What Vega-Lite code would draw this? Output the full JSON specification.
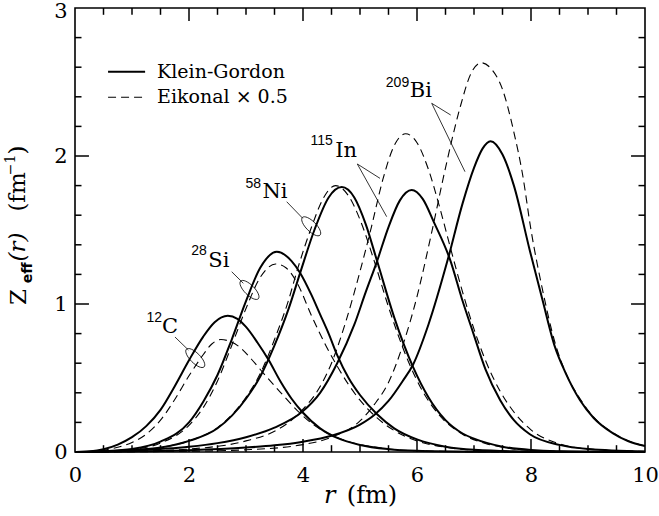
{
  "$schema": "https://vega.github.io/schema/vega-lite/v6.json",
  "width": 570,
  "height": 444,
  "autosize": {"type": "none"},
  "padding": {"left": 75, "top": 8, "right": 14, "bottom": 64},
  "background": "white",
  "config": {
    "view": {"stroke": "#000", "strokeWidth": 1.6},
    "axis": {"grid": false, "domain": false, "title": null, "labelFlush": false, "labelOverlap": false, "labelBound": false}
  },
  "datasets": {
    "kg": [
      {"s":"C12","r":0,"z":0},{"s":"C12","r":0.25,"z":0.004},{"s":"C12","r":0.5,"z":0.018},{"s":"C12","r":0.75,"z":0.05},{"s":"C12","r":1.0,"z":0.1},{"s":"C12","r":1.25,"z":0.175},{"s":"C12","r":1.5,"z":0.285},{"s":"C12","r":1.75,"z":0.445},{"s":"C12","r":2.0,"z":0.62},{"s":"C12","r":2.25,"z":0.78},{"s":"C12","r":2.45,"z":0.877},{"s":"C12","r":2.68,"z":0.92},{"s":"C12","r":2.85,"z":0.9},{"s":"C12","r":3.0,"z":0.845},{"s":"C12","r":3.2,"z":0.74},{"s":"C12","r":3.4,"z":0.62},{"s":"C12","r":3.6,"z":0.48},{"s":"C12","r":3.8,"z":0.36},{"s":"C12","r":4.0,"z":0.265},{"s":"C12","r":4.3,"z":0.16},{"s":"C12","r":4.6,"z":0.095},{"s":"C12","r":5.0,"z":0.047},{"s":"C12","r":5.5,"z":0.019},{"s":"C12","r":6.0,"z":0.008},{"s":"C12","r":7.0,"z":0.002},{"s":"C12","r":8.0,"z":0.0005},{"s":"C12","r":10,"z":0},
      {"s":"Si28","r":0,"z":0},{"s":"Si28","r":0.5,"z":0.005},{"s":"Si28","r":1.0,"z":0.02},{"s":"Si28","r":1.5,"z":0.07},{"s":"Si28","r":2.0,"z":0.2},{"s":"Si28","r":2.25,"z":0.34},{"s":"Si28","r":2.5,"z":0.52},{"s":"Si28","r":2.75,"z":0.76},{"s":"Si28","r":3.0,"z":1.02},{"s":"Si28","r":3.25,"z":1.245},{"s":"Si28","r":3.54,"z":1.353},{"s":"Si28","r":3.8,"z":1.29},{"s":"Si28","r":3.95,"z":1.21},{"s":"Si28","r":4.15,"z":1.06},{"s":"Si28","r":4.3,"z":0.93},{"s":"Si28","r":4.45,"z":0.8},{"s":"Si28","r":4.6,"z":0.655},{"s":"Si28","r":4.8,"z":0.5},{"s":"Si28","r":5.0,"z":0.385},{"s":"Si28","r":5.3,"z":0.255},{"s":"Si28","r":5.6,"z":0.16},{"s":"Si28","r":6.0,"z":0.085},{"s":"Si28","r":6.5,"z":0.036},{"s":"Si28","r":7.0,"z":0.015},{"s":"Si28","r":8.0,"z":0.003},{"s":"Si28","r":10,"z":0},
      {"s":"Ni58","r":0,"z":0},{"s":"Ni58","r":0.5,"z":0.004},{"s":"Ni58","r":1.0,"z":0.012},{"s":"Ni58","r":1.5,"z":0.03},{"s":"Ni58","r":2.0,"z":0.075},{"s":"Ni58","r":2.5,"z":0.16},{"s":"Ni58","r":3.0,"z":0.36},{"s":"Ni58","r":3.25,"z":0.51},{"s":"Ni58","r":3.5,"z":0.72},{"s":"Ni58","r":3.75,"z":0.97},{"s":"Ni58","r":3.95,"z":1.21},{"s":"Ni58","r":4.2,"z":1.5},{"s":"Ni58","r":4.45,"z":1.72},{"s":"Ni58","r":4.68,"z":1.79},{"s":"Ni58","r":4.9,"z":1.72},{"s":"Ni58","r":5.1,"z":1.54},{"s":"Ni58","r":5.3,"z":1.29},{"s":"Ni58","r":5.6,"z":0.91},{"s":"Ni58","r":5.93,"z":0.575},{"s":"Ni58","r":6.2,"z":0.37},{"s":"Ni58","r":6.5,"z":0.215},{"s":"Ni58","r":6.8,"z":0.125},{"s":"Ni58","r":7.0,"z":0.09},{"s":"Ni58","r":7.5,"z":0.036},{"s":"Ni58","r":8.0,"z":0.014},{"s":"Ni58","r":9.0,"z":0.002},{"s":"Ni58","r":10,"z":0},
      {"s":"In115","r":0,"z":0},{"s":"In115","r":1.0,"z":0.01},{"s":"In115","r":2.0,"z":0.035},{"s":"In115","r":2.5,"z":0.06},{"s":"In115","r":3.0,"z":0.1},{"s":"In115","r":3.5,"z":0.165},{"s":"In115","r":3.98,"z":0.27},{"s":"In115","r":4.3,"z":0.4},{"s":"In115","r":4.6,"z":0.6},{"s":"In115","r":4.9,"z":0.86},{"s":"In115","r":5.1,"z":1.08},{"s":"In115","r":5.3,"z":1.29},{"s":"In115","r":5.5,"z":1.52},{"s":"In115","r":5.7,"z":1.7},{"s":"In115","r":5.906,"z":1.77},{"s":"In115","r":6.1,"z":1.71},{"s":"In115","r":6.3,"z":1.55},{"s":"In115","r":6.58,"z":1.3},{"s":"In115","r":6.8,"z":1.02},{"s":"In115","r":6.99,"z":0.8},{"s":"In115","r":7.2,"z":0.56},{"s":"In115","r":7.46,"z":0.35},{"s":"In115","r":7.7,"z":0.215},{"s":"In115","r":7.98,"z":0.12},{"s":"In115","r":8.5,"z":0.048},{"s":"In115","r":9.0,"z":0.02},{"s":"In115","r":10,"z":0.004},
      {"s":"Bi209","r":0,"z":0},{"s":"Bi209","r":1.0,"z":0.004},{"s":"Bi209","r":2.0,"z":0.012},{"s":"Bi209","r":3.0,"z":0.03},{"s":"Bi209","r":3.5,"z":0.045},{"s":"Bi209","r":4.0,"z":0.07},{"s":"Bi209","r":4.5,"z":0.11},{"s":"Bi209","r":5.0,"z":0.185},{"s":"Bi209","r":5.25,"z":0.25},{"s":"Bi209","r":5.5,"z":0.345},{"s":"Bi209","r":5.75,"z":0.48},{"s":"Bi209","r":5.93,"z":0.59},{"s":"Bi209","r":6.2,"z":0.86},{"s":"Bi209","r":6.54,"z":1.3},{"s":"Bi209","r":6.8,"z":1.68},{"s":"Bi209","r":7.0,"z":1.92},{"s":"Bi209","r":7.15,"z":2.05},{"s":"Bi209","r":7.29,"z":2.1},{"s":"Bi209","r":7.5,"z":2.01},{"s":"Bi209","r":7.7,"z":1.8},{"s":"Bi209","r":7.98,"z":1.36},{"s":"Bi209","r":8.2,"z":1.03},{"s":"Bi209","r":8.42,"z":0.71},{"s":"Bi209","r":8.6,"z":0.54},{"s":"Bi209","r":8.86,"z":0.35},{"s":"Bi209","r":9.1,"z":0.23},{"s":"Bi209","r":9.44,"z":0.126},{"s":"Bi209","r":9.7,"z":0.074},{"s":"Bi209","r":10,"z":0.04}
    ],
    "eik": [
      {"s":"C12","r":0,"z":0},{"s":"C12","r":0.25,"z":0.003},{"s":"C12","r":0.5,"z":0.012},{"s":"C12","r":0.75,"z":0.032},{"s":"C12","r":1.0,"z":0.065},{"s":"C12","r":1.25,"z":0.12},{"s":"C12","r":1.5,"z":0.215},{"s":"C12","r":1.75,"z":0.355},{"s":"C12","r":2.0,"z":0.515},{"s":"C12","r":2.2,"z":0.63},{"s":"C12","r":2.4,"z":0.73},{"s":"C12","r":2.56,"z":0.76},{"s":"C12","r":2.7,"z":0.75},{"s":"C12","r":2.9,"z":0.705},{"s":"C12","r":3.1,"z":0.625},{"s":"C12","r":3.3,"z":0.535},{"s":"C12","r":3.6,"z":0.405},{"s":"C12","r":3.9,"z":0.28},{"s":"C12","r":4.2,"z":0.18},{"s":"C12","r":4.5,"z":0.115},{"s":"C12","r":4.8,"z":0.07},{"s":"C12","r":5.2,"z":0.036},{"s":"C12","r":5.6,"z":0.017},{"s":"C12","r":6.0,"z":0.008},{"s":"C12","r":7.0,"z":0.002},{"s":"C12","r":8.0,"z":0.0005},{"s":"C12","r":10,"z":0},
      {"s":"Si28","r":0,"z":0},{"s":"Si28","r":0.5,"z":0.004},{"s":"Si28","r":1.0,"z":0.017},{"s":"Si28","r":1.5,"z":0.06},{"s":"Si28","r":2.0,"z":0.18},{"s":"Si28","r":2.25,"z":0.3},{"s":"Si28","r":2.5,"z":0.48},{"s":"Si28","r":2.75,"z":0.72},{"s":"Si28","r":3.0,"z":0.97},{"s":"Si28","r":3.25,"z":1.18},{"s":"Si28","r":3.52,"z":1.27},{"s":"Si28","r":3.7,"z":1.245},{"s":"Si28","r":3.9,"z":1.14},{"s":"Si28","r":4.15,"z":0.92},{"s":"Si28","r":4.4,"z":0.72},{"s":"Si28","r":4.6,"z":0.58},{"s":"Si28","r":4.8,"z":0.455},{"s":"Si28","r":5.0,"z":0.35},{"s":"Si28","r":5.3,"z":0.23},{"s":"Si28","r":5.6,"z":0.145},{"s":"Si28","r":6.0,"z":0.075},{"s":"Si28","r":6.5,"z":0.032},{"s":"Si28","r":7.0,"z":0.013},{"s":"Si28","r":8.0,"z":0.003},{"s":"Si28","r":10,"z":0},
      {"s":"Ni58","r":0,"z":0},{"s":"Ni58","r":0.5,"z":0.003},{"s":"Ni58","r":1.0,"z":0.011},{"s":"Ni58","r":1.5,"z":0.03},{"s":"Ni58","r":2.0,"z":0.075},{"s":"Ni58","r":2.5,"z":0.165},{"s":"Ni58","r":3.0,"z":0.37},{"s":"Ni58","r":3.25,"z":0.53},{"s":"Ni58","r":3.5,"z":0.76},{"s":"Ni58","r":3.75,"z":1.03},{"s":"Ni58","r":3.9,"z":1.23},{"s":"Ni58","r":4.15,"z":1.52},{"s":"Ni58","r":4.35,"z":1.71},{"s":"Ni58","r":4.57,"z":1.8},{"s":"Ni58","r":4.8,"z":1.73},{"s":"Ni58","r":5.0,"z":1.57},{"s":"Ni58","r":5.25,"z":1.29},{"s":"Ni58","r":5.5,"z":0.98},{"s":"Ni58","r":5.85,"z":0.61},{"s":"Ni58","r":6.1,"z":0.41},{"s":"Ni58","r":6.4,"z":0.245},{"s":"Ni58","r":6.8,"z":0.12},{"s":"Ni58","r":7.2,"z":0.058},{"s":"Ni58","r":7.6,"z":0.026},{"s":"Ni58","r":8.0,"z":0.011},{"s":"Ni58","r":9.0,"z":0.002},{"s":"Ni58","r":10,"z":0},
      {"s":"In115","r":0,"z":0},{"s":"In115","r":1.0,"z":0.005},{"s":"In115","r":2.0,"z":0.02},{"s":"In115","r":3.0,"z":0.075},{"s":"In115","r":3.5,"z":0.14},{"s":"In115","r":3.75,"z":0.2},{"s":"In115","r":4.0,"z":0.29},{"s":"In115","r":4.25,"z":0.41},{"s":"In115","r":4.5,"z":0.6},{"s":"In115","r":4.75,"z":0.88},{"s":"In115","r":5.0,"z":1.22},{"s":"In115","r":5.2,"z":1.52},{"s":"In115","r":5.4,"z":1.84},{"s":"In115","r":5.6,"z":2.07},{"s":"In115","r":5.8,"z":2.15},{"s":"In115","r":6.0,"z":2.09},{"s":"In115","r":6.2,"z":1.91},{"s":"In115","r":6.4,"z":1.65},{"s":"In115","r":6.6,"z":1.36},{"s":"In115","r":6.8,"z":1.08},{"s":"In115","r":7.0,"z":0.83},{"s":"In115","r":7.2,"z":0.62},{"s":"In115","r":7.46,"z":0.41},{"s":"In115","r":7.7,"z":0.27},{"s":"In115","r":8.0,"z":0.15},{"s":"In115","r":8.5,"z":0.055},{"s":"In115","r":9.0,"z":0.021},{"s":"In115","r":10,"z":0.004},
      {"s":"Bi209","r":0,"z":0},{"s":"Bi209","r":1.0,"z":0.002},{"s":"Bi209","r":2.0,"z":0.005},{"s":"Bi209","r":3.0,"z":0.015},{"s":"Bi209","r":4.0,"z":0.05},{"s":"Bi209","r":4.5,"z":0.1},{"s":"Bi209","r":5.0,"z":0.21},{"s":"Bi209","r":5.25,"z":0.32},{"s":"Bi209","r":5.5,"z":0.47},{"s":"Bi209","r":5.75,"z":0.72},{"s":"Bi209","r":6.0,"z":1.05},{"s":"Bi209","r":6.25,"z":1.47},{"s":"Bi209","r":6.5,"z":1.92},{"s":"Bi209","r":6.75,"z":2.32},{"s":"Bi209","r":6.95,"z":2.56},{"s":"Bi209","r":7.13,"z":2.63},{"s":"Bi209","r":7.3,"z":2.59},{"s":"Bi209","r":7.5,"z":2.45},{"s":"Bi209","r":7.7,"z":2.16},{"s":"Bi209","r":7.85,"z":1.88},{"s":"Bi209","r":8.0,"z":1.5},{"s":"Bi209","r":8.2,"z":1.1},{"s":"Bi209","r":8.42,"z":0.74},{"s":"Bi209","r":8.65,"z":0.5},{"s":"Bi209","r":8.86,"z":0.36},{"s":"Bi209","r":9.1,"z":0.235},{"s":"Bi209","r":9.44,"z":0.13},{"s":"Bi209","r":9.7,"z":0.076},{"s":"Bi209","r":10,"z":0.041}
    ],
    "leaders": [
      {"x":1.754,"y":0.777,"x2":1.99,"y2":0.689},
      {"x":2.749,"y":1.218,"x2":2.953,"y2":1.14},
      {"x":3.714,"y":1.691,"x2":3.995,"y2":1.579},
      {"x":4.953,"y":1.946,"x2":5.351,"y2":1.849},
      {"x":4.953,"y":1.946,"x2":5.468,"y2":1.59},
      {"x":6.258,"y":2.356,"x2":6.591,"y2":2.277},
      {"x":6.258,"y":2.356,"x2":6.842,"y2":1.894}
    ],
    "ellipses": [
      {"x":2.11,"y":0.635},
      {"x":3.061,"y":1.095},
      {"x":4.144,"y":1.525}
    ],
    "elements": [
      {"x":1.667,"y":0.804,"t":"C"},
      {"x":2.523,"y":1.252,"t":"Si"},
      {"x":3.509,"y":1.714,"t":"Ni"},
      {"x":4.758,"y":1.991,"t":"In"},
      {"x":6.067,"y":2.397,"t":"Bi"}
    ],
    "supers": [
      {"x":1.389,"y":0.877,"t":"12"},
      {"x":2.175,"y":1.331,"t":"28"},
      {"x":3.128,"y":1.782,"t":"58"},
      {"x":4.328,"y":2.074,"t":"115"},
      {"x":5.658,"y":2.464,"t":"209"}
    ],
    "legendLines": [
      {"x":0.58,"x2":1.23,"y":2.57,"m":"Klein-Gordon"},
      {"x":0.58,"x2":1.23,"y":2.397,"m":"Eikonal"}
    ],
    "legendText": [
      {"x":1.44,"y":2.57,"t":"Klein-Gordon"},
      {"x":1.44,"y":2.397,"t":"Eikonal × 0.5"}
    ],
    "xmaj": [{"v":2},{"v":4},{"v":6},{"v":8}],
    "xmin": [{"v":0.5},{"v":1},{"v":1.5},{"v":2.5},{"v":3},{"v":3.5},{"v":4.5},{"v":5},{"v":5.5},{"v":6.5},{"v":7},{"v":7.5},{"v":8.5},{"v":9},{"v":9.5}],
    "ymaj": [{"v":1},{"v":2}],
    "ymin": [{"v":0.2},{"v":0.4},{"v":0.6},{"v":0.8},{"v":1.2},{"v":1.4},{"v":1.6},{"v":1.8},{"v":2.2},{"v":2.4},{"v":2.6},{"v":2.8}]
  },
  "layer": [
    {
      "data": {"name": "kg"},
      "mark": {"type": "line", "interpolate": "monotone", "color": "#000", "strokeWidth": 2},
      "encoding": {
        "x": {"field": "r", "type": "quantitative", "scale": {"domain": [0, 10], "nice": false},
              "axis": {"orient": "bottom", "values": [0,2,4,6,8,10], "ticks": false, "labelPadding": 12, "labelFont": "DejaVu Serif", "labelFontSize": 21, "labelColor": "#000"}},
        "y": {"field": "z", "type": "quantitative", "scale": {"domain": [0, 3], "nice": false},
              "axis": {"orient": "left", "values": [0,1,2], "ticks": false, "labelPadding": 8, "labelFont": "DejaVu Serif", "labelFontSize": 21, "labelColor": "#000"}},
        "detail": {"field": "s"}
      }
    },
    {
      "data": {"name": "eik"},
      "mark": {"type": "line", "interpolate": "monotone", "color": "#000", "strokeWidth": 1.1, "strokeDash": [8, 5]},
      "encoding": {
        "x": {"field": "r", "type": "quantitative", "scale": {"domain": [0, 10], "nice": false}, "axis": null},
        "y": {"field": "z", "type": "quantitative", "scale": {"domain": [0, 3], "nice": false}, "axis": null},
        "detail": {"field": "s"}
      }
    },
    {
      "data": {"name": "xmaj"},
      "mark": {"type": "rule", "color": "#000", "strokeWidth": 1.5},
      "encoding": {
        "x": {"field": "v", "type": "quantitative", "scale": {"domain": [0, 10], "nice": false}, "axis": null},
        "y": {"datum": 0, "type": "quantitative", "scale": {"domain": [0, 3], "nice": false}, "axis": null},
        "y2": {"datum": 0.088}
      }
    },
    {
      "data": {"name": "xmaj"},
      "mark": {"type": "rule", "color": "#000", "strokeWidth": 1.5},
      "encoding": {
        "x": {"field": "v", "type": "quantitative", "scale": {"domain": [0, 10], "nice": false}, "axis": null},
        "y": {"datum": 3, "type": "quantitative", "scale": {"domain": [0, 3], "nice": false}, "axis": null},
        "y2": {"datum": 2.912}
      }
    },
    {
      "data": {"name": "xmin"},
      "mark": {"type": "rule", "color": "#000", "strokeWidth": 1.5},
      "encoding": {
        "x": {"field": "v", "type": "quantitative", "scale": {"domain": [0, 10], "nice": false}, "axis": null},
        "y": {"datum": 0, "type": "quantitative", "scale": {"domain": [0, 3], "nice": false}, "axis": null},
        "y2": {"datum": 0.046}
      }
    },
    {
      "data": {"name": "xmin"},
      "mark": {"type": "rule", "color": "#000", "strokeWidth": 1.5},
      "encoding": {
        "x": {"field": "v", "type": "quantitative", "scale": {"domain": [0, 10], "nice": false}, "axis": null},
        "y": {"datum": 3, "type": "quantitative", "scale": {"domain": [0, 3], "nice": false}, "axis": null},
        "y2": {"datum": 2.954}
      }
    },
    {
      "data": {"name": "ymaj"},
      "mark": {"type": "rule", "color": "#000", "strokeWidth": 1.5},
      "encoding": {
        "y": {"field": "v", "type": "quantitative", "scale": {"domain": [0, 3], "nice": false}, "axis": null},
        "x": {"datum": 0, "type": "quantitative", "scale": {"domain": [0, 10], "nice": false}, "axis": null},
        "x2": {"datum": 0.245}
      }
    },
    {
      "data": {"name": "ymaj"},
      "mark": {"type": "rule", "color": "#000", "strokeWidth": 1.5},
      "encoding": {
        "y": {"field": "v", "type": "quantitative", "scale": {"domain": [0, 3], "nice": false}, "axis": null},
        "x": {"datum": 10, "type": "quantitative", "scale": {"domain": [0, 10], "nice": false}, "axis": null},
        "x2": {"datum": 9.755}
      }
    },
    {
      "data": {"name": "ymin"},
      "mark": {"type": "rule", "color": "#000", "strokeWidth": 1.5},
      "encoding": {
        "y": {"field": "v", "type": "quantitative", "scale": {"domain": [0, 3], "nice": false}, "axis": null},
        "x": {"datum": 0, "type": "quantitative", "scale": {"domain": [0, 10], "nice": false}, "axis": null},
        "x2": {"datum": 0.114}
      }
    },
    {
      "data": {"name": "ymin"},
      "mark": {"type": "rule", "color": "#000", "strokeWidth": 1.5},
      "encoding": {
        "y": {"field": "v", "type": "quantitative", "scale": {"domain": [0, 3], "nice": false}, "axis": null},
        "x": {"datum": 10, "type": "quantitative", "scale": {"domain": [0, 10], "nice": false}, "axis": null},
        "x2": {"datum": 9.886}
      }
    },
    {
      "data": {"name": "leaders"},
      "mark": {"type": "rule", "color": "#000", "strokeWidth": 0.8},
      "encoding": {
        "x": {"field": "x", "type": "quantitative", "scale": {"domain": [0, 10], "nice": false}, "axis": null},
        "y": {"field": "y", "type": "quantitative", "scale": {"domain": [0, 3], "nice": false}, "axis": null},
        "x2": {"field": "x2"},
        "y2": {"field": "y2"}
      }
    },
    {
      "data": {"name": "ellipses"},
      "mark": {"type": "point", "shape": "M -1 0 A 1 0.4 0 1 1 1 0 A 1 0.4 0 1 1 -1 0 Z", "size": 625, "angle": 45, "filled": false, "stroke": "#000", "strokeWidth": 0.8, "opacity": 1},
      "encoding": {
        "x": {"field": "x", "type": "quantitative", "scale": {"domain": [0, 10], "nice": false}, "axis": null},
        "y": {"field": "y", "type": "quantitative", "scale": {"domain": [0, 3], "nice": false}, "axis": null}
      }
    },
    {
      "data": {"name": "elements"},
      "mark": {"type": "text", "font": "DejaVu Serif", "fontSize": 21, "align": "center", "baseline": "alphabetic", "color": "#000"},
      "encoding": {
        "x": {"field": "x", "type": "quantitative", "scale": {"domain": [0, 10], "nice": false}, "axis": null},
        "y": {"field": "y", "type": "quantitative", "scale": {"domain": [0, 3], "nice": false},
              "axis": {"orient": "left", "values": [3], "ticks": false, "labelOffset": 3, "labelPadding": 8, "labelFont": "DejaVu Serif", "labelFontSize": 21, "labelColor": "#000"}},
        "text": {"field": "t"}
      }
    },
    {
      "data": {"name": "supers"},
      "mark": {"type": "text", "font": "Liberation Sans", "fontSize": 14, "align": "center", "baseline": "alphabetic", "color": "#000"},
      "encoding": {
        "x": {"field": "x", "type": "quantitative", "scale": {"domain": [0, 10], "nice": false}, "axis": null},
        "y": {"field": "y", "type": "quantitative", "scale": {"domain": [0, 3], "nice": false}, "axis": null},
        "text": {"field": "t"}
      }
    },
    {
      "data": {"name": "legendLines"},
      "mark": {"type": "rule", "color": "#000"},
      "encoding": {
        "x": {"field": "x", "type": "quantitative", "scale": {"domain": [0, 10], "nice": false}, "axis": null},
        "x2": {"field": "x2"},
        "y": {"field": "y", "type": "quantitative", "scale": {"domain": [0, 3], "nice": false}, "axis": null},
        "strokeDash": {"field": "m", "type": "nominal", "scale": {"domain": ["Klein-Gordon", "Eikonal"], "range": [[1, 0], [8, 5]]}, "legend": null},
        "strokeWidth": {"field": "m", "type": "nominal", "scale": {"domain": ["Klein-Gordon", "Eikonal"], "range": [2, 1.1]}, "legend": null}
      }
    },
    {
      "data": {"name": "legendText"},
      "mark": {"type": "text", "font": "DejaVu Serif", "fontSize": 19, "align": "left", "baseline": "middle", "color": "#000"},
      "encoding": {
        "x": {"field": "x", "type": "quantitative", "scale": {"domain": [0, 10], "nice": false}, "axis": null},
        "y": {"field": "y", "type": "quantitative", "scale": {"domain": [0, 3], "nice": false}, "axis": null},
        "text": {"field": "t"}
      }
    },
    {
      "data": {"values": [{"x": 4.47, "y": -0.3, "t": "r"}]},
      "mark": {"type": "text", "font": "DejaVu Serif", "fontSize": 24, "fontStyle": "italic", "align": "center", "baseline": "middle", "color": "#000"},
      "encoding": {
        "x": {"field": "x", "type": "quantitative", "scale": {"domain": [0, 10], "nice": false}, "axis": null},
        "y": {"field": "y", "type": "quantitative", "scale": {"domain": [0, 3], "nice": false}, "axis": null},
        "text": {"field": "t"}
      }
    },
    {
      "data": {"values": [{"x": 5.21, "y": -0.3, "t": "(fm)"}]},
      "mark": {"type": "text", "font": "DejaVu Serif", "fontSize": 24, "align": "center", "baseline": "middle", "color": "#000"},
      "encoding": {
        "x": {"field": "x", "type": "quantitative", "scale": {"domain": [0, 10], "nice": false}, "axis": null},
        "y": {"field": "y", "type": "quantitative", "scale": {"domain": [0, 3], "nice": false}, "axis": null},
        "text": {"field": "t"}
      }
    },
    {
      "data": {"values": [{"x": -0.99, "y": 1.047, "t": "Z"}, {"x": -1.0, "y": 1.757, "t": "(fm"}, {"x": -1.0, "y": 2.04, "t": ")"}]},
      "mark": {"type": "text", "font": "DejaVu Serif", "fontSize": 23, "angle": 270, "align": "center", "baseline": "middle", "color": "#000"},
      "encoding": {
        "x": {"field": "x", "type": "quantitative", "scale": {"domain": [0, 10], "nice": false}, "axis": null},
        "y": {"field": "y", "type": "quantitative", "scale": {"domain": [0, 3], "nice": false}, "axis": null},
        "text": {"field": "t"}
      }
    },
    {
      "data": {"values": [{"x": -1.0, "y": 1.385, "t": "(r)"}]},
      "mark": {"type": "text", "font": "DejaVu Serif", "fontSize": 23, "fontStyle": "italic", "angle": 270, "align": "center", "baseline": "middle", "color": "#000"},
      "encoding": {
        "x": {"field": "x", "type": "quantitative", "scale": {"domain": [0, 10], "nice": false}, "axis": null},
        "y": {"field": "y", "type": "quantitative", "scale": {"domain": [0, 3], "nice": false}, "axis": null},
        "text": {"field": "t"}
      }
    },
    {
      "data": {"values": [{"x": -0.83, "y": 1.21, "t": "eff"}]},
      "mark": {"type": "text", "font": "DejaVu Sans", "fontSize": 14, "fontWeight": "bold", "angle": 270, "align": "center", "baseline": "middle", "color": "#000"},
      "encoding": {
        "x": {"field": "x", "type": "quantitative", "scale": {"domain": [0, 10], "nice": false}, "axis": null},
        "y": {"field": "y", "type": "quantitative", "scale": {"domain": [0, 3], "nice": false}, "axis": null},
        "text": {"field": "t"}
      }
    },
    {
      "data": {"values": [{"x": -1.12, "y": 1.94, "t": "−1"}]},
      "mark": {"type": "text", "font": "DejaVu Serif", "fontSize": 14, "angle": 270, "align": "center", "baseline": "middle", "color": "#000"},
      "encoding": {
        "x": {"field": "x", "type": "quantitative", "scale": {"domain": [0, 10], "nice": false}, "axis": null},
        "y": {"field": "y", "type": "quantitative", "scale": {"domain": [0, 3], "nice": false}, "axis": null},
        "text": {"field": "t"}
      }
    }
  ],
  "resolve": {"axis": {"x": "independent", "y": "independent"}}
}
